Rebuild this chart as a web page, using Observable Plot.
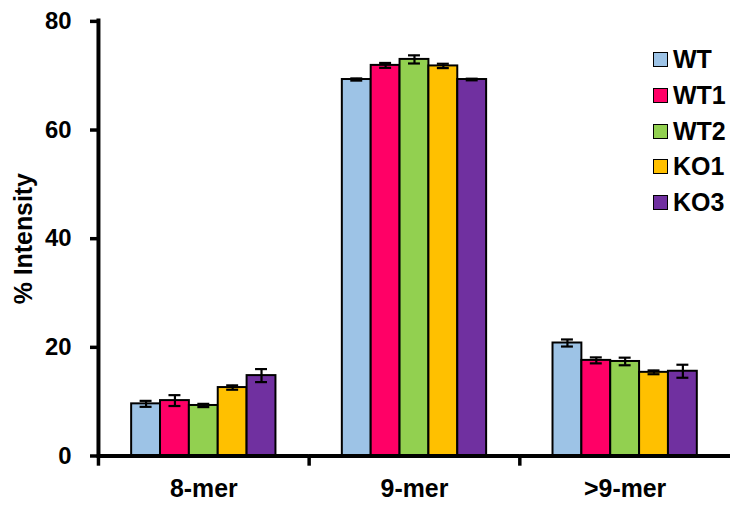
<!DOCTYPE html>
<html>
<head>
<meta charset="utf-8">
<script src="https://cdn.jsdelivr.net/npm/d3@7"></script>
<script src="https://cdn.jsdelivr.net/npm/@observablehq/plot@0.6"></script>
<style>
  html, body { margin: 0; padding: 0; background: #fff; overflow: hidden; }
  #wrap { position: relative; width: 730px; height: 510px; overflow: hidden; font-family: "Liberation Sans", Arial, sans-serif; }
  #legend { position: absolute; left: 653px; top: 42px; }
  .item { display: flex; align-items: center; height: 35.7px; }
  .sw { width: 13px; height: 13px; border: 1.5px solid #000; margin-right: 5px; }
  .lab { font-size: 25px; font-weight: bold; color: #000; line-height: 1; }
</style>
</head>
<body>
<div id="wrap"></div>
<script>
const categories = ["8-mer", "9-mer", ">9-mer"];
const series = ["WT", "WT1", "WT2", "KO1", "KO3"];
const colors = ["#9DC3E6", "#FF0066", "#92D050", "#FFC000", "#7030A0"];
const yTicks = [0, 20, 40, 60, 80];
const yTitle = "% Intensity";

const mer8 = [9.6, 10.2, 9.3, 12.6, 14.8];
const mer8Err = [0.55, 1.0, 0.3, 0.4, 1.2];
const mer9 = [69.3, 71.9, 73.0, 71.8, 69.3];
const mer9Err = [0.2, 0.45, 0.75, 0.4, 0.15];
const merLong = [20.8, 17.6, 17.4, 15.4, 15.6];
const merLongErr = [0.65, 0.55, 0.7, 0.35, 1.2];

const values = [mer8, mer9, merLong];
const errors = [mer8Err, mer9Err, merLongErr];
const data = [];
categories.forEach((c, i) => series.forEach((s, j) => data.push({cat: c, series: s, value: values[i][j], err: errors[i][j]})));

const plot = Plot.plot({
  width: 734,
  height: 510,
  marginLeft: 98.5,
  marginRight: 0,
  marginTop: 21,
  marginBottom: 52,
  style: {fontFamily: '"Liberation Sans", Arial, sans-serif', color: "#000", background: "#fff", overflow: "visible"},
  fx: {domain: categories, padding: 0, round: false, label: null},
  x: {domain: series, paddingInner: 0, paddingOuter: 1.15, round: false, axis: null},
  y: {domain: [0, 80]},
  color: {domain: series, range: colors},
  marks: [
    Plot.barY(data, {fx: "cat", x: "series", y: "value", fill: "series", stroke: "#000", strokeWidth: 2}),
    Plot.ruleX(data, {fx: "cat", x: "series", y1: d => d.value - d.err, y2: d => d.value + d.err, stroke: "#000", strokeWidth: 2.2}),
    Plot.tickY(data, {fx: "cat", x: "series", y: d => d.value - d.err, stroke: "#000", strokeWidth: 2.2, insetLeft: 8.5, insetRight: 8.5}),
    Plot.tickY(data, {fx: "cat", x: "series", y: d => d.value + d.err, stroke: "#000", strokeWidth: 2.2, insetLeft: 8.5, insetRight: 8.5}),
    Plot.ruleY([0], {stroke: "#000", strokeWidth: 4}),
    Plot.frame({anchor: "left", facetAnchor: "left", stroke: "#000", strokeWidth: 4, insetTop: -1}),
    Plot.frame({anchor: "left", stroke: "#000", strokeWidth: 3.5, insetTop: 437, insetBottom: -8}),
    Plot.axisY({ticks: yTicks, tickSize: 8, tickPadding: 19, strokeWidth: 3.5, fontSize: 24, fontWeight: "bold", label: null}),
    Plot.text([yTitle], {text: d => d, frameAnchor: "left", facetAnchor: "left", textAnchor: "middle", rotate: -90, dx: -75, fontSize: 25, fontWeight: "bold", fill: "#000"}),
    Plot.axisFx({anchor: "bottom", tickSize: 0, tickPadding: 23, fontSize: 25, fontWeight: "bold", label: null})
  ]
});

const wrap = document.getElementById("wrap");
wrap.appendChild(plot);

const legend = document.createElement("div");
legend.id = "legend";
series.forEach((s, i) => {
  const item = document.createElement("div");
  item.className = "item";
  const sw = document.createElement("div");
  sw.className = "sw";
  sw.style.background = colors[i];
  const lab = document.createElement("span");
  lab.className = "lab";
  lab.textContent = s;
  item.appendChild(sw);
  item.appendChild(lab);
  legend.appendChild(item);
});
wrap.appendChild(legend);
</script>
</body>
</html>
